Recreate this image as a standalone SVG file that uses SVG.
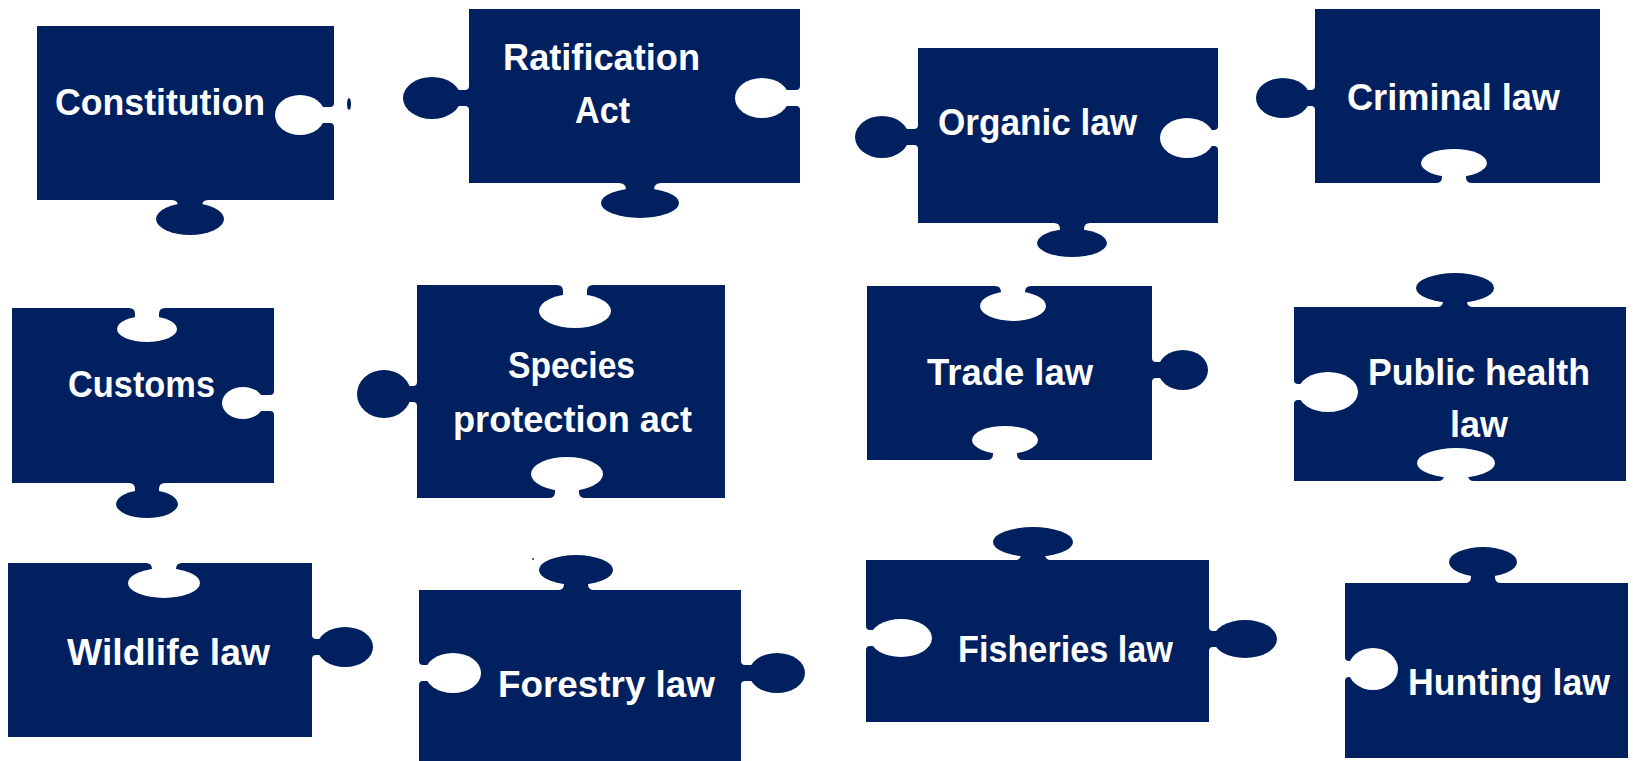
<svg xmlns="http://www.w3.org/2000/svg" width="1633" height="761" viewBox="0 0 1633 761">
<style>
.p{fill:#002060}
.h{fill:#ffffff}
.t{font-family:"Liberation Sans",Arial,sans-serif;font-weight:bold;font-size:36px;fill:#ffffff}
</style>
<rect width="1633" height="761" fill="#ffffff"/>
<g id="connectors"></g>

<g id="n-constitution">
<rect class="p" x="37" y="26" width="297" height="174"/>
<path class="h" d="M335,103 L334,103 Q334,107 330,107 L300,107 L300,123 L330,123 Q334,123 334,127 L335,127 Z"/>
<ellipse class="h" cx="300" cy="115" rx="25" ry="20"/>
<path class="p" d="M172,199 L172,200 Q178,200 178,206 L178,219 L202,219 L202,206 Q202,200 208,200 L208,199 Z"/>
<ellipse class="p" cx="190" cy="219" rx="34" ry="16"/>
<ellipse class="p" cx="349" cy="104" rx="2" ry="6"/>
<text class="t" x="55" y="115" textLength="210" lengthAdjust="spacingAndGlyphs">Constitution</text>
</g>

<g id="n-ratification">
<rect class="p" x="469" y="9" width="331" height="174"/>
<path class="p" d="M470,86 L469,86 Q469,90 465,90 L432,90 L432,106 L465,106 Q469,106 469,110 L470,110 Z"/>
<ellipse class="p" cx="432" cy="98" rx="29" ry="21"/>
<path class="h" d="M801,86 L800,86 Q800,90 796,90 L762,90 L762,106 L796,106 Q800,106 800,110 L801,110 Z"/>
<ellipse class="h" cx="762" cy="98" rx="27" ry="20"/>
<path class="p" d="M619,182 L619,183 Q626,183 626,190 L626,203 L654,203 L654,190 Q654,183 661,183 L661,182 Z"/>
<ellipse class="p" cx="640" cy="203" rx="39" ry="15"/>
<text class="t" x="503" y="70" textLength="197" lengthAdjust="spacingAndGlyphs">Ratification</text>
<text class="t" x="575" y="123" textLength="55" lengthAdjust="spacingAndGlyphs">Act</text>
</g>

<g id="n-organic">
<rect class="p" x="918" y="48" width="300" height="175"/>
<path class="p" d="M919,125 L918,125 Q918,129 914,129 L882,129 L882,145 L914,145 Q918,145 918,149 L919,149 Z"/>
<ellipse class="p" cx="882" cy="137" rx="27" ry="21"/>
<path class="h" d="M1219,126 L1218,126 Q1218,130 1214,130 L1187,130 L1187,146 L1214,146 Q1218,146 1218,150 L1219,150 Z"/>
<ellipse class="h" cx="1187" cy="138" rx="27" ry="20"/>
<path class="p" d="M1054,222 L1054,223 Q1060,223 1060,229 L1060,243 L1084,243 L1084,229 Q1084,223 1090,223 L1090,222 Z"/>
<ellipse class="p" cx="1072" cy="243" rx="35" ry="14"/>
<text class="t" x="938" y="135" textLength="199" lengthAdjust="spacingAndGlyphs">Organic law</text>
</g>

<g id="n-criminal">
<rect class="p" x="1315" y="9" width="285" height="174"/>
<path class="p" d="M1316,86 L1315,86 Q1315,90 1311,90 L1283,90 L1283,106 L1311,106 Q1315,106 1315,110 L1316,110 Z"/>
<ellipse class="p" cx="1283" cy="98" rx="27" ry="20"/>
<path class="h" d="M1436,184 L1436,183 Q1442,183 1442,177 L1442,163 L1466,163 L1466,177 Q1466,183 1472,183 L1472,184 Z"/>
<ellipse class="h" cx="1454" cy="163" rx="33" ry="14"/>
<text class="t" x="1347" y="110" textLength="213" lengthAdjust="spacingAndGlyphs">Criminal law</text>
</g>

<g id="n-customs">
<rect class="p" x="12" y="308" width="262" height="175"/>
<path class="h" d="M129,307 L129,308 Q135,308 135,314 L135,329 L159,329 L159,314 Q159,308 165,308 L165,307 Z"/>
<ellipse class="h" cx="147" cy="329" rx="30" ry="13"/>
<path class="h" d="M275,391 L274,391 Q274,395 270,395 L243,395 L243,411 L270,411 Q274,411 274,415 L275,415 Z"/>
<ellipse class="h" cx="243" cy="403" rx="21" ry="16"/>
<path class="p" d="M129,482 L129,483 Q135,483 135,489 L135,504 L159,504 L159,489 Q159,483 165,483 L165,482 Z"/>
<ellipse class="p" cx="147" cy="504" rx="31" ry="14"/>
<text class="t" x="68" y="397" textLength="147" lengthAdjust="spacingAndGlyphs">Customs</text>
</g>

<g id="n-species">
<rect class="p" x="417" y="285" width="308" height="213"/>
<path class="h" d="M557,284 L557,285 Q563,285 563,291 L563,311 L587,311 L587,291 Q587,285 593,285 L593,284 Z"/>
<ellipse class="h" cx="575" cy="311" rx="36" ry="17"/>
<path class="p" d="M418,382 L417,382 Q417,386 413,386 L384,386 L384,402 L413,402 Q417,402 417,406 L418,406 Z"/>
<ellipse class="p" cx="384" cy="394" rx="27" ry="24"/>
<path class="h" d="M549,499 L549,498 Q555,498 555,492 L555,474 L579,474 L579,492 Q579,498 585,498 L585,499 Z"/>
<ellipse class="h" cx="567" cy="474" rx="36" ry="17"/>
<text class="t" x="508" y="378" textLength="127" lengthAdjust="spacingAndGlyphs">Species</text>
<text class="t" x="453" y="432" textLength="239" lengthAdjust="spacingAndGlyphs">protection act</text>
</g>

<g id="n-trade">
<rect class="p" x="867" y="286" width="285" height="174"/>
<path class="h" d="M995,285 L995,286 Q1001,286 1001,292 L1001,306 L1025,306 L1025,292 Q1025,286 1031,286 L1031,285 Z"/>
<ellipse class="h" cx="1013" cy="306" rx="33" ry="15"/>
<path class="p" d="M1151,358 L1152,358 Q1152,362 1156,362 L1183,362 L1183,378 L1156,378 Q1152,378 1152,382 L1151,382 Z"/>
<ellipse class="p" cx="1183" cy="370" rx="25" ry="20"/>
<path class="h" d="M987,461 L987,460 Q993,460 993,454 L993,440 L1017,440 L1017,454 Q1017,460 1023,460 L1023,461 Z"/>
<ellipse class="h" cx="1005" cy="440" rx="33" ry="14"/>
<text class="t" x="927" y="385" textLength="166" lengthAdjust="spacingAndGlyphs">Trade law</text>
</g>

<g id="n-publichealth">
<rect class="p" x="1294" y="307" width="332" height="174"/>
<path class="p" d="M1437,308 L1437,307 Q1443,307 1443,301 L1443,288 L1467,288 L1467,301 Q1467,307 1473,307 L1473,308 Z"/>
<ellipse class="p" cx="1455" cy="288" rx="39" ry="15"/>
<path class="h" d="M1293,380 L1294,380 Q1294,384 1298,384 L1328,384 L1328,400 L1298,400 Q1294,400 1294,404 L1293,404 Z"/>
<ellipse class="h" cx="1328" cy="392" rx="30" ry="20"/>
<path class="h" d="M1438,482 L1438,481 Q1444,481 1444,475 L1444,463 L1468,463 L1468,475 Q1468,481 1474,481 L1474,482 Z"/>
<ellipse class="h" cx="1456" cy="463" rx="39" ry="15"/>
<text class="t" x="1368" y="385" textLength="222" lengthAdjust="spacingAndGlyphs">Public health</text>
<text class="t" x="1450" y="437" textLength="58" lengthAdjust="spacingAndGlyphs">law</text>
</g>

<g id="n-wildlife">
<rect class="p" x="8" y="563" width="304" height="174"/>
<path class="h" d="M146,562 L146,563 Q152,563 152,569 L152,583 L176,583 L176,569 Q176,563 182,563 L182,562 Z"/>
<ellipse class="h" cx="164" cy="583" rx="36" ry="15"/>
<path class="p" d="M311,635 L312,635 Q312,639 316,639 L345,639 L345,655 L316,655 Q312,655 312,659 L311,659 Z"/>
<ellipse class="p" cx="345" cy="647" rx="28" ry="20"/>
<text class="t" x="67" y="665" textLength="203" lengthAdjust="spacingAndGlyphs">Wildlife law</text>
</g>

<g id="n-forestry">
<rect class="p" x="419" y="590" width="322" height="171"/>
<path class="p" d="M558,591 L558,590 Q564,590 564,584 L564,570 L588,570 L588,584 Q588,590 594,590 L594,591 Z"/>
<ellipse class="p" cx="576" cy="570" rx="37" ry="15"/>
<path class="h" d="M418,661 L419,661 Q419,665 423,665 L453,665 L453,681 L423,681 Q419,681 419,685 L418,685 Z"/>
<ellipse class="h" cx="453" cy="673" rx="28" ry="20"/>
<path class="p" d="M740,661 L741,661 Q741,665 745,665 L777,665 L777,681 L745,681 Q741,681 741,685 L740,685 Z"/>
<ellipse class="p" cx="777" cy="673" rx="28" ry="20"/>
<circle cx="533" cy="559" r="1" fill="#333333"/>
<text class="t" x="498" y="697" textLength="217" lengthAdjust="spacingAndGlyphs">Forestry law</text>
</g>

<g id="n-fisheries">
<rect class="p" x="866" y="560" width="343" height="162"/>
<path class="p" d="M1015,561 L1015,560 Q1021,560 1021,554 L1021,542 L1045,542 L1045,554 Q1045,560 1051,560 L1051,561 Z"/>
<ellipse class="p" cx="1033" cy="542" rx="40" ry="15"/>
<path class="h" d="M865,626 L866,626 Q866,630 870,630 L901,630 L901,646 L870,646 Q866,646 866,650 L865,650 Z"/>
<ellipse class="h" cx="901" cy="638" rx="31" ry="19"/>
<path class="p" d="M1208,627 L1209,627 Q1209,631 1213,631 L1245,631 L1245,647 L1213,647 Q1209,647 1209,651 L1208,651 Z"/>
<ellipse class="p" cx="1245" cy="639" rx="32" ry="19"/>
<text class="t" x="958" y="662" textLength="215" lengthAdjust="spacingAndGlyphs">Fisheries law</text>
</g>

<g id="n-hunting">
<rect class="p" x="1345" y="583" width="283" height="175"/>
<path class="p" d="M1465,584 L1465,583 Q1471,583 1471,577 L1471,562 L1495,562 L1495,577 Q1495,583 1501,583 L1501,584 Z"/>
<ellipse class="p" cx="1483" cy="562" rx="34" ry="15"/>
<path class="h" d="M1344,657 L1345,657 Q1345,661 1349,661 L1373,661 L1373,677 L1349,677 Q1345,677 1345,681 L1344,681 Z"/>
<ellipse class="h" cx="1373" cy="669" rx="25" ry="21"/>
<text class="t" x="1408" y="695" textLength="202" lengthAdjust="spacingAndGlyphs">Hunting law</text>
</g>
</svg>
